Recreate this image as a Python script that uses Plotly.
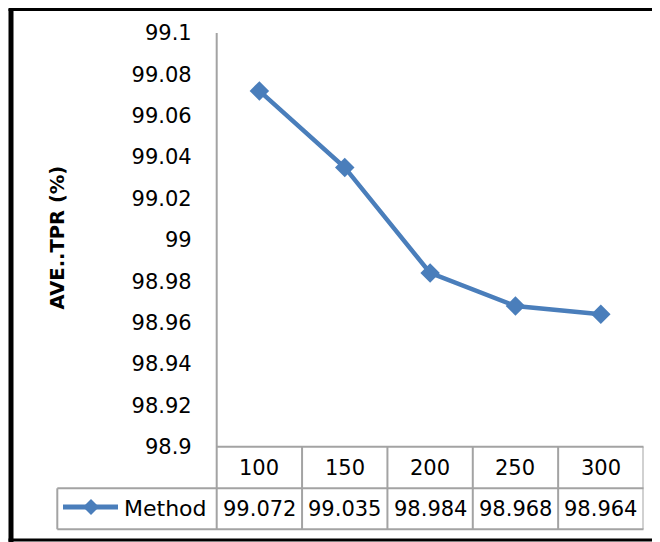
import plotly.graph_objects as go

# ---- data ----
categories = ["100", "150", "200", "250", "300"]
values = [99.072, 99.035, 98.984, 98.968, 98.964]
value_labels = ["99.072", "99.035", "98.984", "98.968", "98.964"]
series_name = "Method"
y_tick_vals = [98.9, 98.92, 98.94, 98.96, 98.98, 99.0, 99.02, 99.04, 99.06, 99.08, 99.1]
y_tick_text = ["98.9", "98.92", "98.94", "98.96", "98.98", "99", "99.02", "99.04", "99.06", "99.08", "99.1"]
y_title = "AVE..TPR (%)"

# ---- layout helpers (screen pixel -> paper); page body has an 8px margin ----
W, H = 660, 542
OFF = 8
def px(x):
    return (x - OFF) / W
def py(y):
    return 1 - (y - OFF) / H

BLUE = "#4A7EBB"
GRID = "#a3a3a3"
FONT = "DejaVu Sans"

plot_left, plot_right = 216.7, 643.5
plot_top, plot_bottom = 33.0, 446.7
row1_bottom, row2_bottom = 488.3, 529.3
legend_left = 57.3

fig = go.Figure()
fig.add_trace(go.Scatter(
    x=list(range(len(categories))), y=values, mode="lines+markers", name=series_name,
    line=dict(color=BLUE, width=4.5),
    marker=dict(symbol="diamond", size=15, color=BLUE),
    showlegend=False, cliponaxis=False,
))

shapes = []
# outer frame lines
shapes.append(dict(type="line", xref="paper", yref="paper", x0=px(11), x1=px(11), y0=py(9), y1=py(560),
                   line=dict(color="black", width=5)))
shapes.append(dict(type="line", xref="paper", yref="paper", x0=px(8.5), x1=px(680), y0=py(9.5), y1=py(9.5),
                   line=dict(color="black", width=3)))
shapes.append(dict(type="line", xref="paper", yref="paper", x0=px(8.5), x1=px(680), y0=py(540), y1=py(540),
                   line=dict(color="black", width=3)))
# y axis line extended into table
shapes.append(dict(type="line", xref="paper", yref="paper", x0=px(plot_left), x1=px(plot_left),
                   y0=py(plot_top), y1=py(row2_bottom), line=dict(color=GRID, width=2)))
# table horizontal lines
shapes.append(dict(type="line", xref="paper", yref="paper", x0=px(plot_left), x1=px(plot_right),
                   y0=py(plot_bottom), y1=py(plot_bottom), line=dict(color=GRID, width=2)))
for yy in (row1_bottom, row2_bottom):
    shapes.append(dict(type="line", xref="paper", yref="paper", x0=px(legend_left), x1=px(plot_right),
                       y0=py(yy), y1=py(yy), line=dict(color=GRID, width=2)))
# legend cell left border
shapes.append(dict(type="line", xref="paper", yref="paper", x0=px(legend_left), x1=px(legend_left),
                   y0=py(row1_bottom), y1=py(row2_bottom), line=dict(color=GRID, width=2)))
# table vertical lines at category boundaries
for i in range(len(categories)):
    shapes.append(dict(type="line", xref="x", yref="paper", x0=i + 0.5, x1=i + 0.5,
                       y0=py(plot_bottom), y1=py(row2_bottom), line=dict(color=GRID, width=2)))
# legend key: line + diamond
ly = 507
shapes.append(dict(type="line", xref="paper", yref="paper", x0=px(63), x1=px(118), y0=py(ly), y1=py(ly),
                   line=dict(color=BLUE, width=5)))
cx, r = 91, 8
shapes.append(dict(type="path", xref="paper", yref="paper",
                   path=f"M {px(cx-r)} {py(ly)} L {px(cx)} {py(ly-r)} L {px(cx+r)} {py(ly)} L {px(cx)} {py(ly+r)} Z",
                   fillcolor=BLUE, line=dict(color=BLUE, width=0)))

annotations = []
hdr_y = (plot_bottom + row1_bottom) / 2
val_y = (row1_bottom + row2_bottom) / 2
for i, (c, v) in enumerate(zip(categories, value_labels)):
    annotations.append(dict(x=i, xref="x", y=py(hdr_y), yref="paper", text=c, showarrow=False,
                            xanchor="center", yanchor="middle", font=dict(family=FONT, size=21, color="black")))
    annotations.append(dict(x=i, xref="x", y=py(val_y), yref="paper", text=v, showarrow=False,
                            xanchor="center", yanchor="middle", font=dict(family=FONT, size=21, color="black")))
annotations.append(dict(x=px(122), y=py(val_y), xref="paper", yref="paper", text=series_name, showarrow=False,
                        xanchor="left", yanchor="middle", font=dict(family=FONT, size=22, color="black")))
annotations.append(dict(x=px(57), y=py(237.5), xref="paper", yref="paper", text=f"<b>{y_title}</b>",
                        showarrow=False, textangle=-90, xanchor="center", yanchor="middle",
                        font=dict(family=FONT, size=19.5, color="black")))

fig.update_layout(
    width=W, height=H, margin=dict(l=0, r=0, t=0, b=0, autoexpand=False),
    paper_bgcolor="white", plot_bgcolor="white",
    xaxis=dict(domain=[px(plot_left), px(plot_right)], range=[-0.5, 4.5], automargin=False,
               tickvals=list(range(len(categories))), ticktext=categories,
               showticklabels=False, showgrid=False, zeroline=False, showline=False, ticks=""),
    yaxis=dict(domain=[py(plot_bottom), py(plot_top)], range=[98.9, 99.1], automargin=False,
               tickvals=y_tick_vals, ticktext=y_tick_text, showgrid=False, zeroline=False,
               showline=False, ticks="", ticklabelstandoff=24,
               tickfont=dict(family=FONT, size=21, color="black")),
    shapes=shapes, annotations=annotations,
)

fig.write_html("out.html")
